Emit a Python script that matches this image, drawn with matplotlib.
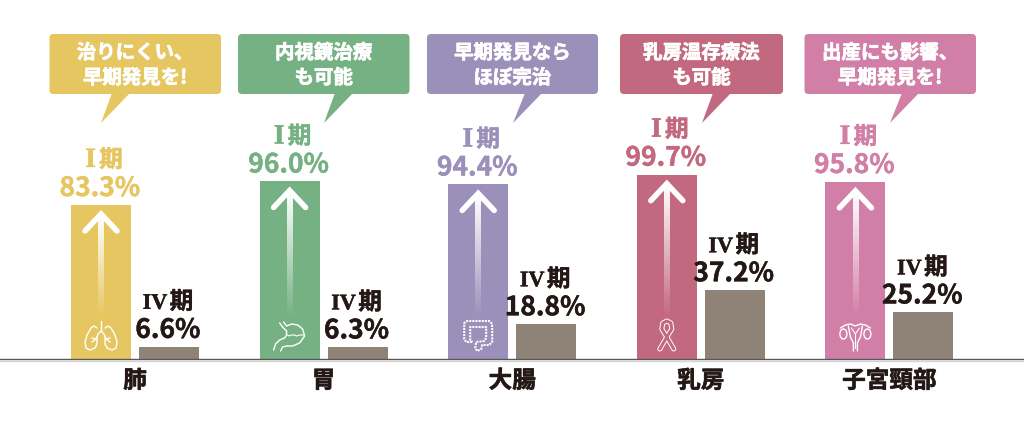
import numpy as np
import matplotlib
matplotlib.use('Agg')
import matplotlib.pyplot as plt
import matplotlib.patheffects as pe
from matplotlib.patches import FancyBboxPatch, Polygon, Ellipse

plt.rcParams['font.family'] = ['Noto Sans CJK JP', 'DejaVu Sans']
plt.rcParams['font.weight'] = 'bold'

# 5-year survival by cancer site and stage
sites = ['肺', '胃', '大腸', '乳房', '子宮頸部']
stage1 = [83.3, 96.0, 94.4, 99.7, 95.8]
stage4 = [6.6, 6.3, 18.8, 37.2, 25.2]
stage1_numeral = 'I'
stage4_numeral = 'IV'
stage_kanji = '期'
notes = ['治りにくい、\n早期発見を!', '内視鏡治療\nも可能', '早期発見なら\nほぼ完治',
         '乳房温存療法\nも可能', '出産にも影響、\n早期発見を!']

colors = ['#e6c661', '#75b183', '#9a90b9', '#c3697f', '#d17fa6']
gray = '#8f8378'
dark = '#231815'

# callout layout, in pixels
note_left = [49.5, 238, 427, 620, 804.5]
note_right = [221, 409.5, 598, 783, 976]
tail_left = [112, 335, 525, 713, 902]
tail_right = [130, 353, 542, 731, 919]
tail_tip = [101, 324, 513, 702, 890]

W, H = 1024, 422
base_y = 359          # pixel row of the axis line
px_per_pct = 1.849
first_x = 135
step = 188.6
PT = 0.72             # points per pixel at dpi 100

fig = plt.figure(figsize=(W / 100, H / 100), dpi=100, facecolor='white')

# ---------- bars ----------
ax = fig.add_axes([0, (H - base_y) / H, 1, base_y / H])
ax.set_xlim(-first_x / step, (W - first_x) / step)
ax.set_ylim(0, base_y / px_per_pct)
ax.patch.set_alpha(0)

x = np.arange(len(sites))
off = 34 / step
bw = 60 / step
ax.bar(x - off, stage1, width=bw, color=colors, zorder=2)
ax.bar(x + off, stage4, width=bw, color=gray, zorder=2)

for s in ['top', 'left', 'right']:
    ax.spines[s].set_visible(False)
ax.spines['bottom'].set_color('#595757')
ax.spines['bottom'].set_linewidth(1.0)
ax.spines['bottom'].set_zorder(3)
ax.set_yticks([])
ax.set_xticks(x)
ax.set_xticklabels(sites, fontsize=17, color=dark)
ax.tick_params(axis='x', length=0, pad=7)
for lab in ax.get_xticklabels():
    lab.set_path_effects([pe.withStroke(linewidth=0.4, foreground=dark)])

# ---------- value labels ----------
def bar_label(xpos, val, numeral, numeral_dx, kanji_dx, numeral_size, col):
    stroke = [pe.withStroke(linewidth=0.3, foreground=col)]
    ax.annotate(f'{val:.1f}%', (xpos, val), xytext=(-1 * PT, 9 * PT), textcoords='offset points',
                ha='center', va='baseline', fontsize=19, color=col, path_effects=stroke)
    ax.annotate(numeral, (xpos, val), xytext=(numeral_dx * PT, 38 * PT), textcoords='offset points',
                ha='center', va='baseline', fontsize=numeral_size, color=col,
                family=['Liberation Serif', 'DejaVu Serif'], path_effects=stroke)
    ax.annotate(stage_kanji, (xpos, val), xytext=(kanji_dx * PT, 38 * PT), textcoords='offset points',
                ha='center', va='baseline', fontsize=17, color=col, path_effects=stroke)

for i in x:
    bar_label(i - off, stage1[i], stage1_numeral, -10.5, 10, 20, colors[i])
    bar_label(i + off, stage4[i], stage4_numeral, -14, 12.5, 16, dark)

# ---------- overlay in pixel coordinates: callouts, arrows, icons ----------
ov = fig.add_axes([0, 0, 1, 1], zorder=5)
ov.set_xlim(0, W)
ov.set_ylim(H, 0)
ov.axis('off')

# pale line under the axis
ov.plot([0, W], [360.5, 360.5], color='#d5d5d5', lw=1.0, zorder=1)

for i in x:
    left, right = note_left[i], note_right[i]
    ov.add_patch(FancyBboxPatch((left + 3, 37), right - left - 6, 54,
                                boxstyle='round,pad=3,rounding_size=4',
                                fc=colors[i], ec='none'))
    ov.add_patch(Polygon([(tail_left[i], 93), (tail_right[i], 93), (tail_tip[i], 123)],
                         fc=colors[i], ec='none'))
    line1, line2 = notes[i].split('\n')
    mid = (left + right) / 2
    glow = [pe.withStroke(linewidth=0.5, foreground='white')]
    ov.text(mid, 53, line1, ha='center', va='center', fontsize=14, color='white', path_effects=glow)
    ov.text(mid, 78, line2, ha='center', va='center', fontsize=14, color='white', path_effects=glow)

# white arrow on each tall bar, fading out towards the bottom
fade = np.ones((64, 2, 4))
fade[..., 3] = np.linspace(1, 0, 64)[:, None]
for i in x:
    cx = first_x + step * i - 34
    top = base_y - stage1[i] * px_per_pct
    tip = top + 9
    ov.imshow(fade, extent=[cx - 2.8, cx + 2.8, 318, tip + 2], aspect='auto',
              interpolation='bilinear', zorder=3)
    ov.plot([cx - 16, cx, cx + 16], [tip + 17, tip, tip + 17], color='white', lw=4.0,
            solid_capstyle='round', solid_joinstyle='miter', zorder=3)
ov.set_xlim(0, W)
ov.set_ylim(H, 0)


def pts(cx, coords):
    xs = [cx - 30 + p[0] for p in coords]
    ys = [310 + p[1] for p in coords]
    return xs, ys


def icon_line(cx, coords, lw=1.0, color='white', **kw):
    xs, ys = pts(cx, coords)
    ov.plot(xs, ys, color=color, lw=lw, solid_joinstyle='round', solid_capstyle='round',
            zorder=4, **kw)


def lungs(cx, col):
    icon_line(cx, [(30, 11), (30, 21)])
    icon_line(cx, [(30, 21), (27, 24), (25, 29), (21, 28)])
    icon_line(cx, [(25, 29), (21, 32)])
    icon_line(cx, [(30, 21), (33, 24), (35, 29), (39, 28)])
    icon_line(cx, [(35, 29), (39, 32)])
    icon_line(cx, [(26, 18), (23, 16), (20, 18), (16, 25), (14, 32), (15, 38), (19, 40),
                   (24, 38), (26, 34), (26, 27)])
    icon_line(cx, [(34, 18), (37, 16), (40, 18), (44, 25), (46, 32), (45, 38), (41, 40),
                   (36, 38), (34, 34), (34, 27)])


def stomach(cx, col):
    icon_line(cx, [(20, 13), (23, 17), (27, 21), (27, 25), (25, 28), (20, 30), (16, 34),
                   (14, 40)])
    icon_line(cx, [(21, 41), (23, 37), (27, 36), (33, 36), (40, 33), (45, 26), (43, 19),
                   (38, 15), (32, 14), (27, 16), (24, 12)])
    icon_line(cx, [(28, 25), (30, 26), (32, 25), (35, 25), (37, 26), (40, 25), (44, 25)],
              lw=0.8)


def colon(cx, col):
    outline = [(24, 32), (18, 32), (16, 29), (16, 13), (19, 11), (41, 11), (44, 14), (44, 32),
               (41, 35), (34, 35), (33, 39), (29, 41), (27, 38), (28, 32), (36, 31), (38, 28),
               (38, 17), (22, 17), (22, 30), (24, 32)]
    xs, ys = pts(cx, outline)
    ov.plot(xs, ys, color='white', lw=1.5, ls=(0, (1.0, 0.5)), zorder=4)


def ribbon(cx, col):
    band = [(23, 39), (30, 27), (35, 19), (34, 13), (30, 11), (26, 13), (25, 19), (30, 27),
            (37, 39)]
    icon_line(cx, band, lw=3.6)
    icon_line(cx, band, lw=2.2, color=col)


def uterus(cx, col):
    icon_line(cx, [(15, 18), (20, 15), (25, 14), (30, 16), (35, 14), (40, 15), (45, 18)])
    icon_line(cx, [(23, 16), (25, 27), (28, 33), (28, 41)])
    icon_line(cx, [(37, 16), (35, 27), (32, 33), (32, 41)])
    icon_line(cx, [(26, 18), (30, 24), (34, 18)], lw=0.8)
    icon_line(cx, [(30, 24), (30, 38)], lw=0.8)
    for ox in (18, 42):
        ov.add_patch(Ellipse((cx - 30 + ox, 310 + 24), 7, 10, fc='none', ec='white', lw=1.0,
                             zorder=4))


for i, draw in enumerate([lungs, stomach, colon, ribbon, uterus]):
    draw(first_x + step * i - 34, colors[i])

fig.savefig('out.png', dpi=100)
